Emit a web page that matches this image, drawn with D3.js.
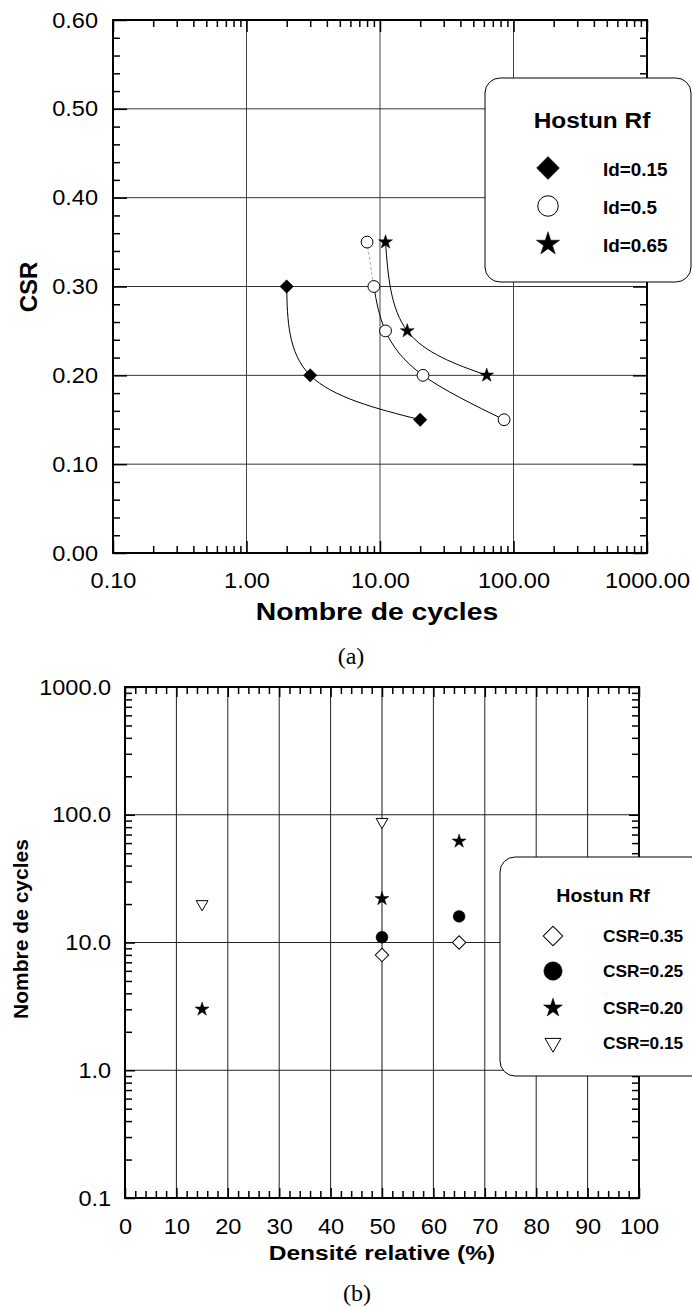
<!DOCTYPE html>
<html>
<head>
<meta charset="UTF-8">
<title>Hostun Rf - CSR et nombre de cycles</title>
<style>
  body {margin:0; background:#fff;}
  svg text {font-family:"Liberation Sans", Arial, sans-serif; fill:#000;}
  .frame {fill:none; stroke:#000; stroke-width:2px;}
  .ticks line {stroke:#000; stroke-width:1.5px;}
  .ticks path {display:none;}
  .legend rect {fill:#fff; stroke:#000; stroke-width:1px;}
  .curve {fill:none; stroke:#000; stroke-width:1px;}
</style>
<script src="https://cdn.jsdelivr.net/npm/d3@7"></script>
</head>
<body>
<svg width="692" height="1308"></svg>
<script>
// ---------- data, figure (a): CSR vs nombre de cycles
var cyclesTicks = [0.1, 1, 10, 100, 1000];
var csrTicks = [0, 0.1, 0.2, 0.3, 0.4, 0.5, 0.6];
var seriesA = ["Id=0.15", "Id=0.5", "Id=0.65"];
var cycles015 = [2, 3, 20],            csr015 = [0.30, 0.20, 0.15];
var cycles05  = [8, 9, 11, 21, 85],    csr05  = [0.35, 0.30, 0.25, 0.20, 0.15];
var cycles065 = [11, 16, 63],          csr065 = [0.35, 0.25, 0.20];

// ---------- data, figure (b): nombre de cycles vs densite relative
var densiteTicks = [0, 10, 20, 30, 40, 50, 60, 70, 80, 90, 100];
var nTicks = [0.1, 1, 10, 100, 1000];
var seriesB = ["CSR=0.35", "CSR=0.25", "CSR=0.20", "CSR=0.15"];
var dens035 = [50, 65],     n035 = [8, 10];
var dens025 = [50, 65],     n025 = [11, 16];
var dens020 = [15, 50, 65], n020 = [3, 22, 62];
var dens015 = [15, 50],     n015 = [20, 88];

var svg = d3.select("svg");

// ---------- scales
var xa = d3.scaleLog().domain([0.1, 1000]).range([113, 647]);
var ya = d3.scaleLinear().domain([0, 0.6]).range([553, 20]);
var xb = d3.scaleLinear().domain([0, 100]).range([125, 639]);
var yb = d3.scaleLog().domain([0.1, 1000]).range([1198, 687]);

function minorsOf(all, majors) {
    return all.filter(function (v) {
        return !majors.some(function (m) { return Math.abs(m - v) < 1e-9 * Math.max(1, v); });
    });
}

// symbols
function symPath(kind, size) {
    var t = {diamond: d3.symbolSquare, circle: d3.symbolCircle, star: d3.symbolStar, tri: d3.symbolTriangle}[kind];
    return d3.symbol().type(t).size(size)();
}
function symRot(kind) { return kind === "diamond" ? 45 : (kind === "tri" ? 180 : 0); }

function drawMarks(g, xs, ys, kind, size, filled) {
    g.selectAll(null).data(d3.zip(xs, ys)).enter().append("path")
        .attr("d", symPath(kind, size))
        .attr("transform", function (d) { return "translate(" + d[0] + "," + d[1] + ") rotate(" + symRot(kind) + ")"; })
        .style("fill", filled ? "#000" : "#fff")
        .style("stroke", "#000")
        .style("stroke-width", filled ? 0.5 : 1);
}

function label(x, y, str, o) {
    return svg.append("text")
        .attr("transform", "translate(" + x + "," + y + ") scale(" + (o.sx || 1) + ",1)" + (o.rot ? " rotate(" + o.rot + ")" : ""))
        .attr("text-anchor", o.anchor || "middle")
        .attr("dominant-baseline", "central")
        .style("font-size", o.size + "px")
        .style("font-weight", o.bold ? "bold" : "normal")
        .style("font-family", o.serif ? "'Liberation Serif', 'Times New Roman', serif" : null)
        .text(str);
}

// inward ticks on all four sides
function frameTicks(x, y, xMinor, xMajor, yMinor, yMajor, xMajLen, yMajLen) {
    var x0 = x.range()[0], x1 = x.range()[1], y0 = y.range()[0], y1 = y.range()[1];
    var sides = [
        [d3.axisBottom(x), "translate(0," + y0 + ")", xMinor, xMajor, xMajLen],
        [d3.axisTop(x),    "translate(0," + y1 + ")", xMinor, xMajor, xMajLen],
        [d3.axisLeft(y),   "translate(" + x0 + ",0)", yMinor, yMajor, yMajLen],
        [d3.axisRight(y),  "translate(" + x1 + ",0)", yMinor, yMajor, yMajLen]
    ];
    sides.forEach(function (s) {
        svg.append("g").attr("class", "ticks").attr("transform", s[1])
            .call(s[0].tickValues(s[2]).tickSize(-7).tickFormat(""));
        svg.append("g").attr("class", "ticks").attr("transform", s[1])
            .call(s[0].tickValues(s[3]).tickSize(-s[4]).tickFormat(""));
    });
}

function tickLabels(axis, transform, fmt, pad) {
    var g = svg.append("g").attr("class", "ticks").attr("transform", transform)
        .call(axis.tickSize(0).tickPadding(pad).tickFormat(fmt));
    g.selectAll("line").remove();
    g.selectAll("text").style("font-size", "22px").attr("transform", "scale(1.07,1)");
}

// ================= figure (a)
var ga = svg.append("g");
ga.selectAll(null).data([1, 10, 100]).enter().append("line")
    .attr("x1", xa).attr("x2", xa).attr("y1", ya(0)).attr("y2", ya(0.6))
    .style("stroke", "#444").style("stroke-width", 1);
ga.selectAll(null).data([0.1, 0.2, 0.3, 0.4, 0.5]).enter().append("line")
    .attr("x1", xa(0.1)).attr("x2", xa(1000)).attr("y1", ya).attr("y2", ya)
    .style("stroke", "#333").style("stroke-width", 1);

svg.append("rect").attr("class", "frame")
    .attr("x", xa(0.1)).attr("y", ya(0.6))
    .attr("width", xa(1000) - xa(0.1)).attr("height", ya(0) - ya(0.6));

frameTicks(xa, ya, minorsOf(xa.ticks(), cyclesTicks), cyclesTicks,
           minorsOf(d3.range(0, 0.6001, 0.02), csrTicks), csrTicks, 12, 14);

tickLabels(d3.axisBottom(xa).tickValues(cyclesTicks), "translate(0," + ya(0) + ")", d3.format(".2f"), 19);
tickLabels(d3.axisLeft(ya).tickValues(csrTicks), "translate(" + xa(0.1) + ",0)", d3.format(".2f"), 14);

var lineA = d3.line().x(function (d) { return xa(d[0]); }).y(function (d) { return ya(d[1]); }).curve(d3.curveNatural);

var defs = svg.append("defs");
defs.append("clipPath").attr("id", "clipTop").append("rect")
    .attr("x", xa(0.1)).attr("y", ya(0.6)).attr("width", xa(1000) - xa(0.1)).attr("height", ya(0.30) - ya(0.6));
defs.append("clipPath").attr("id", "clipBot").append("rect")
    .attr("x", xa(0.1)).attr("y", ya(0.30)).attr("width", xa(1000) - xa(0.1)).attr("height", ya(0) - ya(0.30));

ga.append("path").attr("class", "curve").attr("d", lineA(d3.zip(cycles015, csr015)));
ga.append("path").attr("class", "curve").attr("d", lineA(d3.zip(cycles05, csr05)))
    .attr("clip-path", "url(#clipTop)").style("stroke", "#aaa").style("stroke-dasharray", "3,2");
ga.append("path").attr("class", "curve").attr("d", lineA(d3.zip(cycles05, csr05)))
    .attr("clip-path", "url(#clipBot)");
ga.append("path").attr("class", "curve").attr("d", lineA(d3.zip(cycles065, csr065)));

drawMarks(ga, cycles015.map(xa), csr015.map(ya), "diamond", 90, true);
drawMarks(ga, cycles05.map(xa), csr05.map(ya), "circle", 110, false);
drawMarks(ga, cycles065.map(xa), csr065.map(ya), "star", 60, true);

label(28, 287, "CSR", {size: 24, bold: true, rot: -90});
label(377, 612, "Nombre de cycles", {size: 24, bold: true, sx: 1.18});
label(351, 656, "(a)", {size: 24, serif: true});

// legend (a)
var la = svg.append("g").attr("class", "legend");
la.append("rect").attr("x", 485).attr("y", 78).attr("width", 206).attr("height", 204).attr("rx", 15).attr("ry", 15);
label(592, 120, "Hostun Rf", {size: 22, bold: true, sx: 1.11});
var legKindsA = [["diamond", 260, true], ["circle", 330, false], ["star", 170, true]];
seriesA.forEach(function (name, i) {
    var yy = 168 + i * 38;
    drawMarks(la, [548], [yy], legKindsA[i][0], legKindsA[i][1], legKindsA[i][2]);
    label(603, yy + 2, name, {size: 18, bold: true, anchor: "start", sx: 1.05});
});

// ================= figure (b)
var gb = svg.append("g");
gb.selectAll(null).data(d3.range(10, 100, 10)).enter().append("line")
    .attr("x1", xb).attr("x2", xb).attr("y1", yb(0.1)).attr("y2", yb(1000))
    .style("stroke", function (d) { return d === 50 ? "#888" : "#222"; })
    .style("stroke-width", function (d) { return d === 50 ? 2 : 1; });
gb.selectAll(null).data([1, 10, 100]).enter().append("line")
    .attr("x1", xb(0)).attr("x2", xb(100)).attr("y1", yb).attr("y2", yb)
    .style("stroke", "#222").style("stroke-width", 1);

svg.append("rect").attr("class", "frame")
    .attr("x", xb(0)).attr("y", yb(1000))
    .attr("width", xb(100) - xb(0)).attr("height", yb(0.1) - yb(1000));

frameTicks(xb, yb, minorsOf(d3.range(0, 101, 2), densiteTicks), densiteTicks,
           minorsOf(yb.ticks(), nTicks), nTicks, 10, 10);

tickLabels(d3.axisBottom(xb).tickValues(densiteTicks), "translate(0," + yb(0.1) + ")", d3.format("d"), 20);
tickLabels(d3.axisLeft(yb).tickValues(nTicks), "translate(" + xb(0) + ",0)", d3.format(".1f"), 13);

drawMarks(gb, dens015.map(xb), n015.map(yb), "tri", 60, false);
drawMarks(gb, dens020.map(xb), n020.map(yb), "star", 60, true);
drawMarks(gb, dens025.map(xb), n025.map(yb), "circle", 110, true);
drawMarks(gb, dens035.map(xb), n035.map(yb), "diamond", 90, false);

label(20, 929, "Nombre de cycles", {size: 21, bold: true, rot: -90});
label(382, 1253, "Densité relative (%)", {size: 21, bold: true, sx: 1.17});
label(357, 1293, "(b)", {size: 24, serif: true});

// legend (b)
var lb = svg.append("g").attr("class", "legend");
lb.append("rect").attr("x", 500).attr("y", 857).attr("width", 210).attr("height", 219).attr("rx", 15).attr("ry", 15);
label(603, 896, "Hostun Rf", {size: 19, bold: true, sx: 1.03});
var legKindsB = [["diamond", 190, false], ["circle", 265, true], ["star", 110, true], ["tri", 110, false]];
seriesB.forEach(function (name, i) {
    var yy = [936, 971, 1008, 1043][i];
    drawMarks(lb, [553], [yy], legKindsB[i][0], legKindsB[i][1], legKindsB[i][2]);
    label(603, yy + 1, name, {size: 16, bold: true, anchor: "start", sx: 1.08});
});
</script>
</body>
</html>
